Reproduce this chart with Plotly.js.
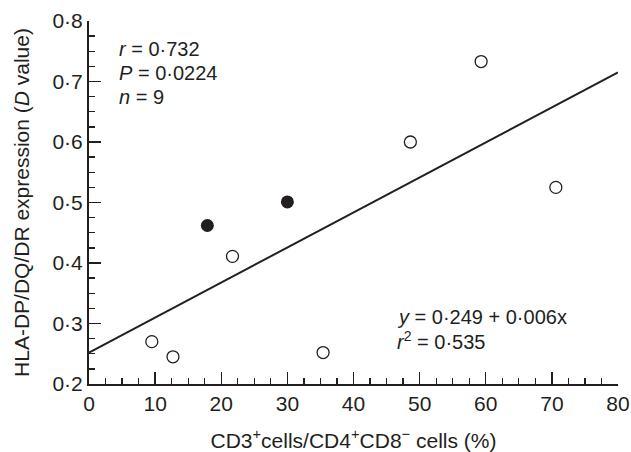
<!DOCTYPE html>
<html>
<head>
<meta charset="utf-8">
<script src="https://cdn.plot.ly/plotly-3.0.1.min.js"></script>
<style>html,body{margin:0;padding:0;background:#fff;}#chart{width:631px;height:452px;}</style>
</head>
<body>
<div id="chart"></div>
<script>
// Open circles
const openX = [9.5, 12.7, 21.7, 35.4, 48.6, 59.3, 70.6];
const openY = [0.270, 0.245, 0.411, 0.252, 0.600, 0.733, 0.525];
// Filled circles
const filledX = [17.9, 30.0];
const filledY = [0.462, 0.501];
// Regression line endpoints as drawn
const lineX = [0, 80];
const lineY = [0.252, 0.715];

const xTitle = 'CD3<sup>+</sup>cells/CD4<sup>+</sup>CD8<sup>\u2212</sup> cells (%)';
const yTitle = 'HLA-DP/DQ/DR expression (<i>D</i> value)';
const statsLines = ['<i>r</i> = 0\u00b7732', '<i>P</i> = 0\u00b70224', '<i>n</i> = 9'];
const fitLines = ['<i>y</i> = 0\u00b7249 + 0\u00b7006x', '<i>r</i><sup>2</sup> = 0\u00b7535'];

const ink = '#231f20';
const fontFam = '"Liberation Sans", Arial, Helvetica, sans-serif';

const traces = [
  {x: lineX, y: lineY, mode: 'lines', line: {color: ink, width: 2}, hoverinfo: 'skip', showlegend: false},
  {x: openX, y: openY, mode: 'markers', marker: {symbol: 'circle-open', size: 12, color: ink, line: {width: 1.3, color: ink}}, showlegend: false},
  {x: filledX, y: filledY, mode: 'markers', marker: {symbol: 'circle', size: 13, color: ink}, showlegend: false}
];

const annotations = [];
statsLines.forEach((t, i) => annotations.push({
  xref: 'paper', yref: 'paper', x: 0.052, y: [0.922, 0.857, 0.792][i], xanchor: 'left', yanchor: 'middle',
  text: t, showarrow: false, font: {size: 20, color: ink, family: fontFam}
}));
fitLines.forEach((t, i) => annotations.push({
  xref: 'paper', yref: 'paper', x: 0.578, y: [0.185, 0.12][i], xanchor: 'left', yanchor: 'middle',
  text: t, showarrow: false, font: {size: 20, color: ink, family: fontFam}
}));

const layout = {
  width: 631, height: 452,
  margin: {l: 89, r: 13, t: 20.5, b: 68},
  paper_bgcolor: '#fff', plot_bgcolor: '#fff',
  separators: '\u00b7,',
  font: {family: fontFam, size: 21, color: ink},
  showlegend: false,
  xaxis: {
    range: [0, 80], dtick: 10, tick0: 0,
    ticks: 'inside', ticklen: 12, tickwidth: 1.3, tickcolor: ink,
    minor: {dtick: 2.5, tick0: 0, ticks: 'inside', ticklen: 6, tickwidth: 1.3, tickcolor: ink, showgrid: false},
    showline: true, linewidth: 2, linecolor: ink,
    showgrid: false, zeroline: false,
    tickfont: {size: 21, color: ink},
    title: {text: xTitle, font: {size: 21, color: ink}, standoff: 20}
  },
  yaxis: {
    range: [0.2, 0.8], dtick: 0.1, tick0: 0.2, tickformat: '.1f',
    ticks: 'inside', ticklen: 12, tickwidth: 1.3, tickcolor: ink,
    minor: {dtick: 0.025, tick0: 0.2, ticks: 'inside', ticklen: 6, tickwidth: 1.3, tickcolor: ink, showgrid: false},
    showline: true, linewidth: 2, linecolor: ink,
    showgrid: false, zeroline: false,
    tickfont: {size: 21, color: ink},
    title: {text: yTitle, font: {size: 21, color: ink}, standoff: 17}
  },
  annotations: annotations
};

Plotly.newPlot('chart', traces, layout, {staticPlot: true, displayModeBar: false});
</script>
</body>
</html>
